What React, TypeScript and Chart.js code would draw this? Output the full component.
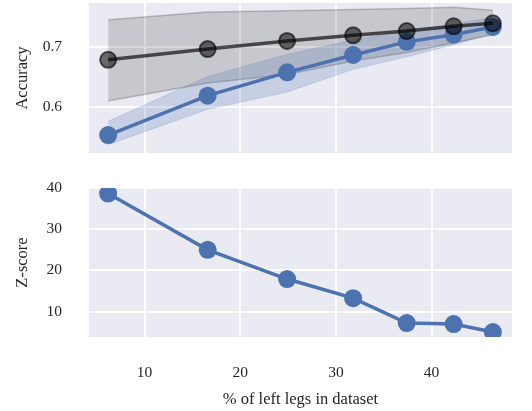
import React, { useEffect, useRef } from "react";
import { Chart, registerables } from "chart.js";
Chart.register(...registerables);

// ---- data ----
const xPct = [6.2, 16.6, 24.9, 31.8, 37.4, 42.3, 46.4];
const baselineAcc = [0.679, 0.697, 0.7105, 0.72, 0.727, 0.735, 0.74];
const baselineHi = [0.746, 0.759, 0.761, 0.763, 0.765, 0.767, 0.762];
const baselineLo = [0.61, 0.64, 0.6545, 0.677, 0.691, 0.707, 0.721];
const modelAcc = [0.553, 0.619, 0.658, 0.687, 0.709, 0.721, 0.734];
const modelHi = [0.576, 0.651, 0.688, 0.712, 0.728, 0.738, 0.75];
const modelLo = [0.537, 0.596, 0.625, 0.663, 0.684, 0.704, 0.724];
const zScore = [38.7, 25.0, 17.9, 13.25, 7.2, 6.95, 5.0];
const xTicks = [10, 20, 30, 40];
const accTicks = [0.6, 0.7];
const zTicks = [10, 20, 30, 40];

const BG = "#EAEAF2";
const BLUE = "#4C72B0";
const TXT = "#262626";
const FONT = "'Liberation Serif', 'Times New Roman', serif";
const TICK_SIZE = 15.5;
const TITLE_SIZE = 16.5;

const bgPlugin = {
  id: "bgArea",
  beforeDraw(chart: any) {
    const { ctx, chartArea: a } = chart;
    ctx.save();
    ctx.fillStyle = BG;
    ctx.fillRect(a.left, a.top, a.right - a.left, a.bottom - a.top);
    ctx.restore();
  },
};

const pts = (ys: number[]) => xPct.map((x, i) => ({ x, y: ys[i] }));

function xScale(showLabels: boolean, height: number) {
  return {
    type: "linear",
    min: 4.2,
    max: 48.4,
    afterBuildTicks: (s: any) => {
      s.ticks = xTicks.map((v) => ({ value: v }));
    },
    afterFit: (s: any) => {
      s.height = height;
      s.paddingLeft = 0;
      s.paddingRight = 0;
      s.paddingTop = 0;
      s.paddingBottom = 0;
    },
    border: { display: false },
    grid: { color: "#ffffff", lineWidth: 2, drawTicks: false },
    ticks: {
      display: showLabels,
      padding: 27,
      color: TXT,
      font: { family: FONT, size: TICK_SIZE },
      callback: (v: any) => String(v),
    },
    title: {
      display: showLabels,
      text: "% of left legs in dataset",
      color: TXT,
      font: { family: FONT, size: TITLE_SIZE },
      padding: { top: 0, bottom: 1 },
    },
  };
}

function yScale(min: number, max: number, ticks: number[], title: string, fmt: (v: number) => string) {
  return {
    type: "linear",
    min,
    max,
    afterBuildTicks: (s: any) => {
      s.ticks = ticks.map((v) => ({ value: v }));
    },
    afterFit: (s: any) => {
      s.width = 89;
      s.paddingLeft = 0;
      s.paddingRight = 0;
      s.paddingTop = 0;
      s.paddingBottom = 0;
    },
    border: { display: false },
    grid: { color: "#ffffff", lineWidth: 2, drawTicks: false },
    ticks: {
      padding: 27,
      color: TXT,
      font: { family: FONT, size: TICK_SIZE },
      callback: (v: any) => fmt(Number(v)),
    },
    title: {
      display: true,
      text: title,
      color: TXT,
      font: { family: FONT, size: TITLE_SIZE },
      padding: { top: 13, bottom: 0 },
    },
  };
}

export default function App() {
  const topRef = useRef<HTMLCanvasElement | null>(null);
  const botRef = useRef<HTMLCanvasElement | null>(null);

  useEffect(() => {
    const common = {
      responsive: false,
      animation: false,
      devicePixelRatio: 1,
      plugins: { legend: { display: false }, tooltip: { enabled: false } },
    };
    const top = new Chart(topRef.current as HTMLCanvasElement, {
      type: "line",
      data: {
        datasets: [
          {
            data: pts(baselineAcc),
            borderColor: "rgba(0,0,0,0.65)",
            backgroundColor: "rgba(0,0,0,0.6)",
            borderWidth: 3.5,
            pointRadius: 8,
            pointBorderWidth: 2,
            pointBorderColor: "rgba(0,0,0,0.6)",
            pointBackgroundColor: "rgba(0,0,0,0.55)",
            fill: false,
            order: 0,
            clip: 0,
          },
          {
            data: pts(modelAcc),
            borderColor: BLUE,
            backgroundColor: BLUE,
            borderWidth: 3.5,
            pointRadius: 9,
            pointBorderWidth: 0,
            pointBackgroundColor: BLUE,
            fill: false,
            order: 1,
            clip: 0,
          },
          {
            data: pts(modelHi),
            borderColor: "rgba(76,114,176,0.2)",
            borderWidth: 1,
            backgroundColor: "rgba(76,114,176,0.22)",
            pointRadius: 0,
            fill: 3,
            order: 2,
            clip: 0,
          },
          {
            data: pts(modelLo),
            borderColor: "rgba(76,114,176,0.2)",
            borderWidth: 1,
            pointRadius: 0,
            fill: false,
            order: 2,
            clip: 0,
          },
          {
            data: pts(baselineHi),
            borderColor: "rgba(0,0,0,0.2)",
            borderWidth: 1.5,
            backgroundColor: "rgba(0,0,0,0.15)",
            pointRadius: 0,
            fill: 5,
            order: 3,
            clip: 0,
          },
          {
            data: pts(baselineLo),
            borderColor: "rgba(0,0,0,0.2)",
            borderWidth: 1.5,
            pointRadius: 0,
            fill: false,
            order: 3,
            clip: 0,
          },
        ],
      },
      options: {
        ...common,
        layout: { autoPadding: false, padding: { left: 0, right: 20, top: 3, bottom: 0 } },
        scales: {
          x: xScale(false, 7),
          y: yScale(0.523, 0.774, accTicks, "Accuracy", (v) => v.toFixed(1)),
        },
      } as any,
      plugins: [bgPlugin],
    } as any);

    const bot = new Chart(botRef.current as HTMLCanvasElement, {
      type: "line",
      data: {
        datasets: [
          {
            data: pts(zScore),
            borderColor: BLUE,
            backgroundColor: BLUE,
            borderWidth: 3.5,
            pointRadius: 9,
            pointBorderWidth: 0,
            pointBackgroundColor: BLUE,
            fill: false,
            clip: 0,
          },
        ],
      },
      options: {
        ...common,
        layout: { autoPadding: false, padding: { left: 0, right: 20, top: 28, bottom: 0 } },
        scales: {
          x: xScale(true, 74),
          y: yScale(3.8, 40.05, zTicks, "Z-score", (v) => String(Math.round(v))),
        },
      } as any,
      plugins: [bgPlugin],
    } as any);

    return () => {
      top.destroy();
      bot.destroy();
    };
  }, []);

  return (
    <div style={{ position: "absolute", left: 0, top: 0, width: 532, height: 411, background: "#ffffff" }}>
      <canvas ref={topRef} width={532} height={160} style={{ position: "absolute", left: 0, top: 0, width: 532, height: 160 }} />
      <canvas ref={botRef} width={532} height={251} style={{ position: "absolute", left: 0, top: 160, width: 532, height: 251 }} />
    </div>
  );
}
